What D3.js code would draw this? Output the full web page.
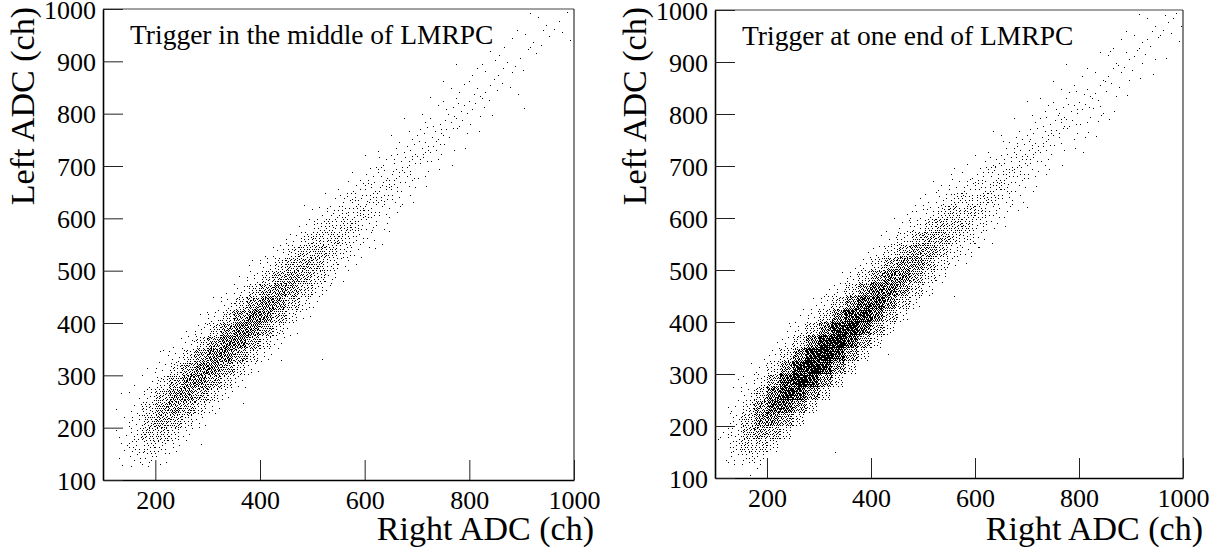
<!DOCTYPE html>
<html>
<head>
<meta charset="utf-8">
<script src="https://cdn.jsdelivr.net/npm/d3@7"></script>
<style>
  body { margin: 0; background: #fff; }
  text { font-family: "Liberation Serif", "Times New Roman", serif; fill: #000; }
</style>
</head>
<body>
<svg id="chart" width="1229" height="552"></svg>
<script>
// TH2 style data: 25 ch bins, drawn as a scatter (like ROOT "scat")
var binW = 25;

// [x bin start, first y bin start, counts of the y bins going up ...]
var midCols = [
  [125,  50, 0,0,0,2,3,3,1,1,0],
  [150,  75, 0,0,6,10,10,7,4,2,1],
  [175, 100, 0,6,17,29,30,20,9,3,1],
  [200, 125, 3,12,30,48,49,33,15,5,1],
  [225, 150, 5,15,38,62,64,43,20,6,1],
  [250, 175, 5,17,44,70,74,49,22,6,1],
  [275, 200, 5,20,46,76,79,53,24,7,1],
  [300, 225, 6,20,49,80,84,55,25,7,1],
  [325, 250, 6,21,51,83,87,58,26,7,1],
  [350, 275, 6,21,52,85,89,59,26,7,1],
  [375, 300, 6,21,49,82,85,56,25,7,2],
  [400, 325, 5,18,46,75,78,52,23,7,1],
  [425, 350, 5,16,40,64,68,45,21,6,0],
  [450, 375, 3,14,32,54,56,37,17,5,0],
  [475, 400, 3,10,26,44,46,30,14,3,1],
  [500, 425, 2,9,22,34,37,24,11,3,0],
  [525, 450, 2,6,15,25,26,17,7,2,0],
  [550, 475, 1,5,12,19,20,13,6,2,0],
  [575, 500, 1,4,9,15,15,10,5,1,0],
  [600, 525, 1,3,7,11,12,8,4,1,0],
  [625, 550, 1,2,6,9,10,6,3,1,0],
  [650, 575, 0,2,5,8,8,5,2,1,0],
  [675, 600, 0,2,4,6,7,4,2,1,0],
  [700, 625, 0,1,3,6,6,4,2,0,0],
  [725, 650, 0,1,3,5,5,3,1,1,0],
  [750, 675, 0,1,2,4,4,3,1,1,0],
  [775, 700, 0,1,2,3,4,2,1,1,0],
  [800, 725, 0,1,2,3,3,2,1,0,0],
  [825, 750, 0,1,1,3,2,2,1,0,0],
  [850, 775, 0,0,1,2,2,2,1,0,0],
  [875, 800, 0,1,1,2,1,1,1,0,0],
  [900, 825, 0,0,1,1,2,1,1,0,0],
  [925, 850, 0,0,1,1,2,1,0,0,0],
  [950, 875, 0,0,1,1,1,1,1,0,0],
  [975, 900, 0,1,1,1,0,0,0,0,0]
];

var endCols = [
  [100,  50, 0,0,0,1,2,2,1,0,0],
  [125,  75, 0,0,6,11,10,7,4,1,1],
  [150, 100, 1,11,27,35,30,17,6,2,1],
  [175, 125, 8,26,52,69,58,32,11,3,1],
  [200, 150, 13,40,80,105,90,49,18,4,1],
  [225, 175, 17,52,104,137,116,64,23,5,2],
  [250, 200, 19,60,120,158,134,74,26,7,2],
  [275, 225, 20,64,128,169,143,79,28,7,2],
  [300, 250, 21,63,130,167,144,78,27,8,2],
  [325, 275, 20,61,122,161,137,75,27,6,1],
  [350, 300, 18,56,112,148,125,69,25,6,1],
  [375, 325, 16,50,100,132,112,62,22,5,1],
  [400, 350, 14,43,86,114,96,53,19,4,1],
  [425, 375, 12,36,72,95,81,44,16,3,1],
  [450, 400, 9,30,59,78,66,36,13,3,1],
  [475, 425, 8,24,48,63,54,30,10,2,1],
  [500, 450, 6,19,38,50,43,23,8,2,1],
  [525, 475, 5,15,30,40,33,18,7,2,0],
  [550, 500, 4,11,23,30,26,14,5,2,0],
  [575, 500, 1,5,14,22,23,15,7,2,1],
  [600, 525, 1,4,11,17,18,12,5,2,0],
  [625, 550, 1,3,8,14,14,9,4,1,1],
  [650, 575, 1,3,7,11,11,7,3,1,0],
  [675, 600, 1,2,5,9,9,6,3,1,0],
  [700, 625, 0,2,5,7,8,5,2,1,0],
  [725, 650, 0,2,4,6,6,4,2,1,0],
  [750, 675, 0,1,3,5,6,4,1,1,0],
  [775, 700, 0,1,3,4,5,3,1,1,0],
  [800, 700, 0,1,2,3,4,3,1,1,0],
  [825, 725, 0,1,2,3,3,2,1,1,0],
  [850, 750, 0,1,1,2,3,2,1,1,0],
  [875, 775, 0,0,1,2,3,2,1,1,0],
  [900, 800, 0,0,1,2,2,2,1,1,0],
  [925, 825, 0,0,1,2,2,2,1,0,0],
  [950, 850, 0,0,1,1,2,2,1,0,0],
  [975, 875, 0,0,1,2,2,0,0,0,0]
];

// single events well off the band [right ADC, left ADC]
var midOutliers = [[215,348],[289,167],[368,247],[442,329],[620,543],[648,574],[136,266],[520,330],[905,810],[300,420]];
var endOutliers = [[331,150],[181,119],[433,337],[244,398],[606,544],[488,612],[640,700],[560,450],[700,620],[860,920]];

var xTickLabels = [200, 400, 600, 800, 1000];
var yTickLabels = [100, 200, 300, 400, 500, 600, 700, 800, 900, 1000];
var xMinorTicks = d3.range(150, 1000, 50);
var yMinorTicks = d3.range(120, 1000, 20);
var notes = ["Trigger in the middle of LMRPC", "Trigger at one end of LMRPC"];
var xTitle = "Right ADC (ch)";
var yTitle = "Left ADC (ch)";

var serif = '"Liberation Serif", "Times New Roman", serif';
var svg = d3.select("#chart");

function frac(v) { return v - Math.floor(v); }

function drawPanel(box, cols, outliers, note) {
  var x = d3.scaleLinear().domain([100, 1000]).range([box.left, box.right]);
  var y = d3.scaleLinear().domain([100, 1000]).range([box.bottom, box.top]);
  var g = svg.append("g");

  // spread every bin content over its cell (quasi random, fixed)
  var pts = [];
  cols.forEach(function(c) {
    var ix = c[0] / binW;
    for (var j = 2; j < c.length; j++) {
      var yb = c[1] + (j - 2) * binW;
      var iy = yb / binW;
      var s1 = frac(ix * 0.6180339887 + iy * 0.3819660113 + 0.13);
      var s2 = frac(ix * 0.7071067812 + iy * 0.5772156649 + 0.37);
      for (var i = 0; i < c[j]; i++) {
        var u = frac(s1 + (i + 0.5) * 0.7548776662);
        var v = frac(s2 + (i + 0.5) * 0.5698402910);
        var px = c[0] + u * binW, py = yb + v * binW;
        if (px < 100 || px >= 1000 || py < 100 || py >= 1000) continue;
        pts.push([px, py]);
      }
    }
  });
  outliers.forEach(function(o) { pts.push(o); });

  g.append("g").selectAll("rect").data(pts).enter().append("rect")
    .attr("x", function(d) { return Math.floor(x(d[0])); })
    .attr("y", function(d) { return Math.floor(y(d[1])); })
    .attr("width", 1).attr("height", 1)
    .attr("fill", "#000")
    .attr("shape-rendering", "crispEdges");

  // frame top / right
  g.append("line").attr("x1", box.left).attr("x2", box.right)
    .attr("y1", box.top).attr("y2", box.top)
    .attr("stroke", "#444").attr("stroke-width", 1.2);
  g.append("line").attr("x1", box.right).attr("x2", box.right)
    .attr("y1", box.top).attr("y2", box.bottom)
    .attr("stroke", "#333").attr("stroke-width", 1.2);

  // x axis, ticks pointing in
  var fmt = d3.format("d");
  var xa = g.append("g").attr("transform", "translate(0," + box.bottom + ")");
  xa.call(d3.axisBottom(x).tickValues(xMinorTicks).tickSize(-10).tickSizeOuter(0).tickFormat(""));
  xa.call(d3.axisBottom(x).tickValues(xTickLabels).tickSize(-20).tickSizeOuter(0).tickPadding(11).tickFormat(fmt));

  var ya = g.append("g").attr("transform", "translate(" + box.left + ",0)");
  ya.call(d3.axisLeft(y).tickValues(yMinorTicks).tickSize(-10).tickSizeOuter(0).tickFormat(""));
  ya.call(d3.axisLeft(y).tickValues(yTickLabels).tickSize(-20).tickSizeOuter(0).tickPadding(7).tickFormat(fmt));
  ya.selectAll("text").attr("dy", "0.35em");

  g.selectAll(".tick text").style("font-family", serif).style("font-size", "26px");
  g.selectAll(".tick line").attr("stroke", "#222");
  g.selectAll(".domain").attr("stroke", "#000").attr("stroke-width", 1.6);

  g.append("text").attr("x", box.left + 27).attr("y", box.top + 35)
    .style("font-family", serif).style("font-size", "27.5px").text(note);

  g.append("text").attr("text-anchor", "end")
    .attr("x", box.right + 20).attr("y", 540)
    .style("font-family", serif).style("font-size", "34px").text(xTitle);

  g.append("text").attr("text-anchor", "end")
    .attr("transform", "translate(" + (box.left - 69) + ",7) rotate(-90)")
    .style("font-family", serif).style("font-size", "34px").text(yTitle);
}

drawPanel({left: 103, right: 574, top: 9, bottom: 480}, midCols, midOutliers, notes[0]);
drawPanel({left: 715, right: 1183, top: 10, bottom: 478}, endCols, endOutliers, notes[1]);
</script>
</body>
</html>
